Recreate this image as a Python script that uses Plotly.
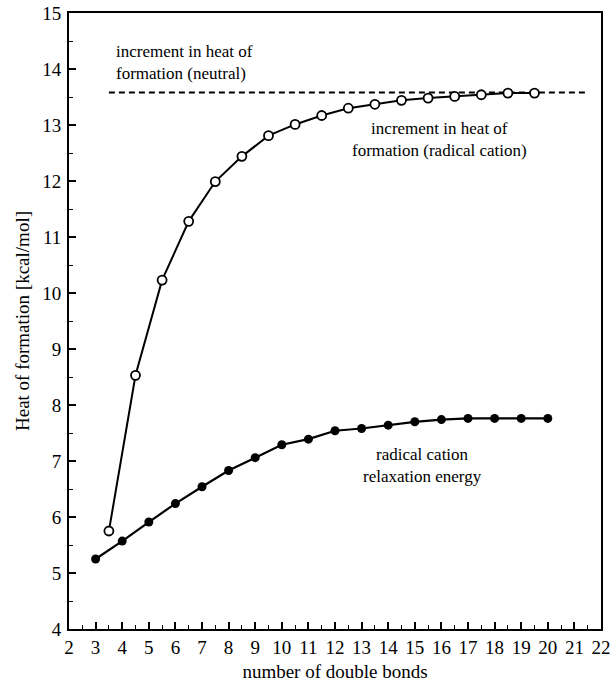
import plotly.graph_objects as go

# Data
open_x = [3.5, 4.5, 5.5, 6.5, 7.5, 8.5, 9.5, 10.5, 11.5, 12.5, 13.5, 14.5, 15.5, 16.5, 17.5, 18.5, 19.5]
open_y = [5.75, 8.53, 10.23, 11.28, 11.99, 12.44, 12.81, 13.01, 13.17, 13.30, 13.37, 13.44, 13.48, 13.51, 13.54, 13.57, 13.57]

filled_x = [3, 4, 5, 6, 7, 8, 9, 10, 11, 12, 13, 14, 15, 16, 17, 18, 19, 20]
filled_y = [5.25, 5.57, 5.91, 6.24, 6.54, 6.83, 7.06, 7.29, 7.39, 7.54, 7.58, 7.64, 7.70, 7.74, 7.76, 7.76, 7.76, 7.76]

neutral_x = [3.5, 21.5]
neutral_y = [13.58, 13.58]

x_ticks = list(range(2, 23))
y_ticks = list(range(4, 16))

FONT = "Liberation Serif, Times New Roman, Times, serif"

fig = go.Figure()
fig.add_trace(go.Scatter(x=neutral_x, y=neutral_y, mode="lines",
                         line=dict(color="black", width=2, dash="6px,4px"),
                         showlegend=False, hoverinfo="skip"))
fig.add_trace(go.Scatter(x=open_x, y=open_y, mode="lines+markers",
                         line=dict(color="black", width=2),
                         marker=dict(symbol="circle", size=9, color="white",
                                     line=dict(color="black", width=1.8)),
                         showlegend=False))
fig.add_trace(go.Scatter(x=filled_x, y=filled_y, mode="lines+markers",
                         line=dict(color="black", width=2.2),
                         marker=dict(symbol="circle", size=9, color="black"),
                         showlegend=False))

def label(x, y, text, anchor, align):
    fig.add_annotation(x=x, y=y, xref="x", yref="y", text=text, showarrow=False,
                       xanchor=anchor, yanchor="middle", align=align,
                       font=dict(family=FONT, size=17, color="black"))

label(3.68, 14.12, "increment in heat of<br>formation (neutral)", "left", "left")
label(15.94, 12.75, "increment in heat of<br>formation (radical cation)", "center", "center")
label(15.3, 6.92, "radical cation<br>relaxation energy", "center", "center")

axis_common = dict(showline=True, linecolor="black", linewidth=2, mirror=True,
                   showgrid=False, zeroline=False, ticks="inside", ticklen=7,
                   tickwidth=1.5, tickcolor="black", automargin=False,
                   ticklabeloverflow="allow",
                   tickfont=dict(family=FONT, size=19, color="black"))

fig.update_xaxes(range=[2, 22], tickvals=x_ticks, ticktext=[str(v) for v in x_ticks],
                 minor=dict(dtick=0.5, tick0=2, ticks="inside", ticklen=4, tickwidth=1.3,
                            tickcolor="black"),
                 ticklabelstandoff=0,
                 title=dict(text="number of double bonds", standoff=8,
                            font=dict(family=FONT, size=19, color="black")),
                 **axis_common)
fig.update_yaxes(range=[4, 15], tickvals=y_ticks, ticktext=[str(v) for v in y_ticks],
                 minor=dict(dtick=0.5, tick0=4, ticks="inside", ticklen=4, tickwidth=1.3,
                            tickcolor="black"),
                 ticklabelstandoff=2,
                 title=dict(text="Heat of formation [kcal/mol]", standoff=8,
                            font=dict(family=FONT, size=19, color="black")),
                 **axis_common)

fig.update_layout(width=610, height=686, plot_bgcolor="white", paper_bgcolor="white",
                  margin=dict(l=69, r=9, t=13, b=57), showlegend=False)

# remove the browser's default 8px body margin so the figure sits at (0, 0)
fig.write_html("out.html", config={"displayModeBar": False},
               post_script="document.body.style.margin='0px';")
